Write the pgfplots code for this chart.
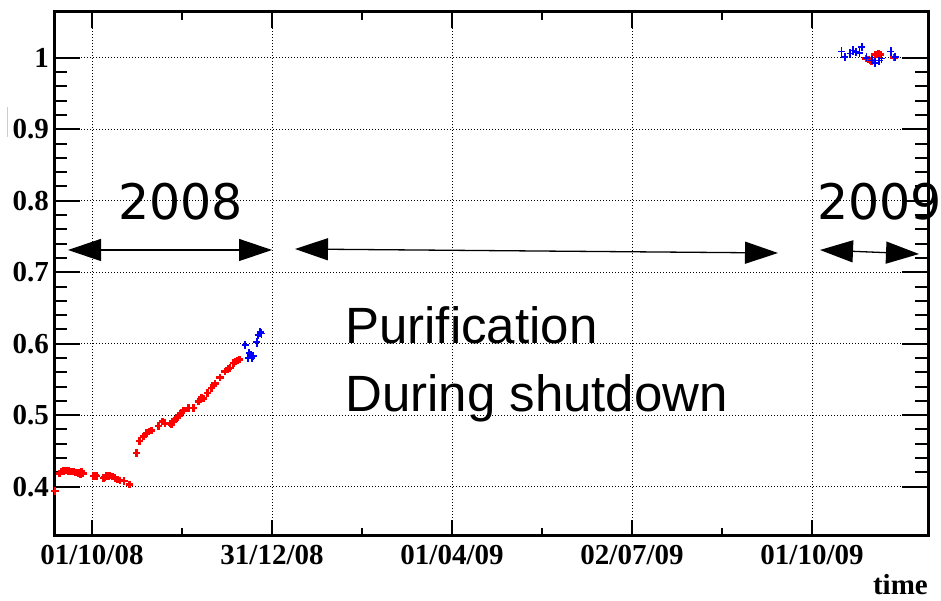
\documentclass[border=0pt]{standalone}
\usepackage{fontspec}
\setmainfont{Liberation Serif}
\newfontfamily\dejavu{DejaVu Sans}
\newfontfamily\helv{Liberation Sans}
\usepackage{pgfplots}
\pgfplotsset{compat=1.18}
\usetikzlibrary{arrows.meta}

% days counted from 01/10/08
\pgfplotstableread{
d v
-18.8 0.394
-16.6 0.418
-15.3 0.421
-14.5 0.422
-13.0 0.423
-12.0 0.422
-10.8 0.421
-9.5 0.421
-8.2 0.420
-6.9 0.419
-6.0 0.417
-5.2 0.421
-4.6 0.418
0.7 0.415
1.6 0.416
2.4 0.415
5.7 0.412
6.5 0.413
7.4 0.415
8.3 0.415
9.1 0.416
10.2 0.414
11.7 0.412
13.0 0.410
14.2 0.409
16.2 0.408
18.9 0.403
22.7 0.447
24.0 0.464
26.2 0.470
27.7 0.475
28.9 0.477
30.3 0.479
33.6 0.485
35.8 0.491
37.0 0.489
39.5 0.488
40.4 0.487
41.3 0.491
42.1 0.494
43.1 0.496
44.1 0.500
45.0 0.502
46.3 0.506
48.8 0.510
51.4 0.510
53.9 0.519
55.6 0.525
56.5 0.523
58.4 0.531
60.7 0.538
61.5 0.541
62.4 0.544
64.9 0.553
67.4 0.561
69.1 0.565
70.0 0.566
71.6 0.573
72.6 0.575
73.7 0.577
74.7 0.578
392.4 0.999
393.5 0.998
394.4 0.996
395.3 0.995
396.9 1.004
397.8 1.005
398.6 1.006
399.8 1.004
406.6 1.000
}\redtab

\pgfplotstableread{
d v
77.6 0.598
79.2 0.580
79.7 0.587
80.6 0.584
81.1 0.580
81.8 0.583
83.5 0.602
84.3 0.612
85.2 0.616
86.0 0.614
380.0 1.009
381.7 1.001
384.3 1.006
385.9 1.010
387.3 1.008
389.0 1.007
390.2 1.015
392.7 1.000
395.3 0.996
396.9 0.993
399.1 0.996
400.3 0.999
404.9 1.009
407.1 1.001
}\bluetab

\begin{document}
\begin{tikzpicture}[x=1bp,y=1bp]
\clip (0,0) rectangle (941,601);
\begin{axis}[
  at={(54bp,65bp)}, anchor=south west,
  scale only axis, width=874bp, height=524bp,
  xmin=-19.26, xmax=423.8, ymin=0.331, ymax=1.064,
  xtick={0,91.25,182.5,273.75,365},
  xticklabels={01/10/08,31/12/08,01/04/09,02/07/09,01/10/09},
  minor x tick num=1,
  ytick={0.4,0.5,0.6,0.7,0.8,0.9,1.0},
  yticklabels={0.4,0.5,0.6,0.7,0.8,0.9,1},
  minor y tick num=4,
  tick align=inside,
  major tick length=26bp, minor tick length=13bp,
  x tick style={/pgfplots/major tick length=16bp,/pgfplots/minor tick length=8bp},
  every tick/.style={black, line width=2bp},
  axis line style={line width=3bp},
  xmajorgrids, ymajorgrids,
  grid style={black, line width=0.9bp, dash pattern=on 0.9bp off 2.1bp},
  /pgf/number format/assume math mode=true,
  tick label style={font=\fontsize{29bp}{29bp}\selectfont\bfseries},
  yticklabel style={inner sep=0pt, anchor=east, xshift=-5bp},
  xticklabel style={inner sep=0pt, anchor=north, yshift=-9bp},
]
\addplot[only marks, red, mark=+, mark size=3.6bp, line width=2.8bp] table[x=d,y=v] {\redtab};
\addplot[only marks, blue, mark=+, mark size=3.5bp, line width=1.6bp,
  mark options={blue},
  error bars/.cd, y dir=both, y fixed=0.006,
  error bar style={blue, line width=1.6bp}, error mark=none] table[x=d,y=v] {\bluetab};
\end{axis}

% axis title
\node[anchor=base east, inner sep=0pt, font=\fontsize{29bp}{29bp}\selectfont\bfseries] at (928,6) {time};
\draw[gray!40, line width=0.8bp] (7,464) -- (7,494);

% period arrows
\begin{scope}[line width=1.3bp, black, {Triangle[length=33bp,width=22bp]}-{Triangle[length=33bp,width=22bp]}]
\draw (68,351) -- (272,351);
\draw (295,352) -- (778,348);
\draw (820,351) -- (919,347);
\end{scope}

% annotations
\node[anchor=base west, inner sep=0pt, font=\dejavu\fontsize{49bp}{49bp}\selectfont] at (118,381) {2008};
\node[anchor=base west, inner sep=0pt, font=\dejavu\fontsize{49bp}{49bp}\selectfont] at (817,381) {2009};
\node[anchor=base west, inner sep=0pt, font=\helv\fontsize{51bp}{51bp}\selectfont] at (345,257) {Purification};
\node[anchor=base west, inner sep=0pt, font=\helv\fontsize{51bp}{51bp}\selectfont] at (345,189) {During shutdown};
\end{tikzpicture}
\end{document}
